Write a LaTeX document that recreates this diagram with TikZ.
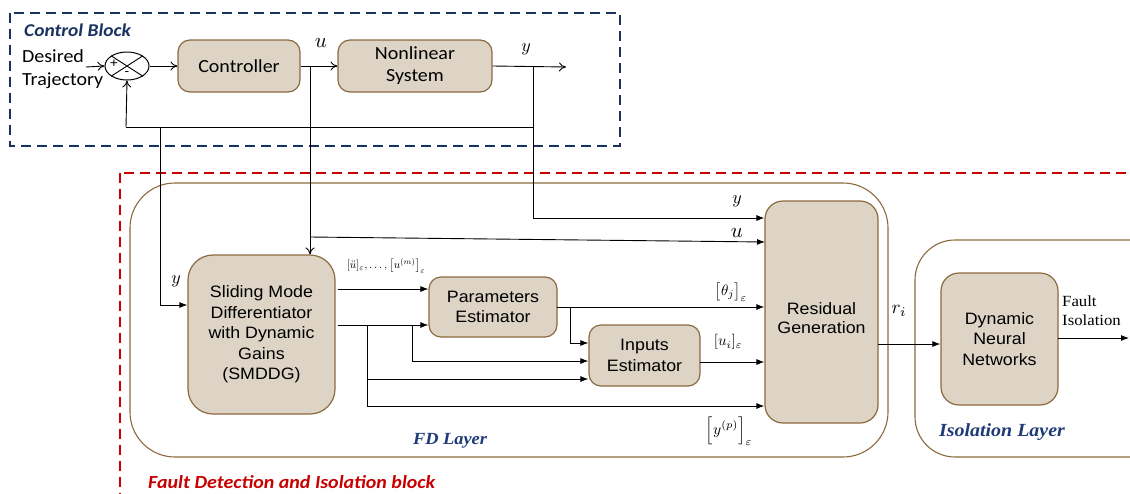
\documentclass[tikz,border=0pt]{standalone}
\usepackage{fontspec}
\usetikzlibrary{arrows.meta,shapes.geometric}
\newfontfamily\calfont[FakeStretch=1.08]{Carlito}
\newfontfamily\arsfont[FakeStretch=1.08]{Liberation Sans}
\newfontfamily\tmsfont[FakeStretch=1.08]{Liberation Serif}
\definecolor{boxfill}{HTML}{DDD4C6}
\definecolor{boxline}{HTML}{8C6A3F}
\definecolor{navyc}{HTML}{1A3260}
\definecolor{redc}{HTML}{C80000}
\definecolor{labnavy}{HTML}{1F3A78}
\tikzset{
  blk/.style={draw=boxline, line width=1.2pt, fill=boxfill, rounded corners=#1, align=center, inner sep=0pt},
  blk/.default=12pt,
  layer/.style={draw=boxline, line width=1.1pt, rounded corners=#1},
  oarr/.style={-{To[length=7pt,width=9pt]}, line width=0.9pt},
  farr/.style={-{Latex[length=8pt,width=6pt]}, line width=0.9pt},
  ln/.style={line width=0.9pt},
  sansbox/.style={font=\arsfont\fontsize{16.5}{20.5}\selectfont},
  calbox/.style={font=\calfont\fontsize{18.5}{22}\selectfont},
  mlab/.style={inner sep=0pt},
}
\begin{document}
\begin{tikzpicture}[x=1pt,y=-1pt]
\clip (0,0) rectangle (1130,493);
\fill[white] (0,0) rectangle (1130,493);

% ---------- Control block ----------
\draw[navyc, line width=2.4pt, dash pattern=on 10pt off 6pt] (10,13) rectangle (620,146);
\node[anchor=west, inner sep=0pt, text=navyc, font=\calfont\fontsize{18}{20}\bfseries\itshape\selectfont] (cbl) at (24,30) {Control Block};
\node[anchor=west, inner sep=0pt, calbox] (des) at (22,56) {Desired};
\node[anchor=west, inner sep=0pt, calbox] (traj) at (22,81) {Trajectory};

\node[draw, ellipse, line width=1pt, minimum width=44pt, minimum height=28pt, inner sep=0pt] (sum) at (127,66) {};
\draw[line width=0.9pt] (sum.north west) -- (sum.south east) (sum.north east) -- (sum.south west);
\node[inner sep=0pt, font=\arsfont\fontsize{13}{13}\selectfont] (plus) at (114,64) {+};
\node[inner sep=0pt, font=\arsfont\fontsize{13}{13}\selectfont] (minus) at (127,74) {-};

\node[blk, calbox, minimum width=122pt, minimum height=52pt] (ctrl) at (239,66) {Controller};
\node[blk, calbox, minimum width=154pt, minimum height=52pt] (nls) at (415,66) {Nonlinear\\System};

\coordinate (din) at (86,67);
\coordinate (ju) at (310,67);
\coordinate (jy) at (533,67);
\coordinate (yout) at (566,67);
\coordinate (fbr) at (533,127);
\coordinate (fbl) at (126,127);
\coordinate (fby) at (160,127);

\draw[oarr] (din) -- (sum.west);
\draw[oarr] (sum.east) -- (ctrl.west);
\draw[oarr] (ctrl.east) -- (nls.west);
\draw[oarr] (nls.east) -- (yout);
\draw[ln] (fbr) -- (fbl);
\draw[oarr] (fbl) -- (sum.south);
\node[mlab] (ulab) at (321,43) {\scalebox{2.1}{$u$}};
\node[mlab] (ylab) at (526,49) {\scalebox{1.8}{$y$}};

% ---------- FDI block ----------
\draw[redc, line width=2.4pt, dash pattern=on 10pt off 6pt] (120,173) rectangle (1150,510);
\node[anchor=west, inner sep=0pt, text=redc, font=\calfont\fontsize{18.5}{20}\bfseries\itshape\selectfont] (fdil) at (148,482) {Fault Detection and Isolation block};

\draw[layer=45pt] (130,183) rectangle (888,457);
\node[inner sep=0pt, text=labnavy, font=\tmsfont\fontsize{17}{18}\bfseries\itshape\selectfont] (fdl) at (450,441) {FD Layer};
\draw[layer=40pt] (915,240) rectangle (1180,457);
\node[inner sep=0pt, text=labnavy, font=\tmsfont\fontsize{18.5}{20}\bfseries\itshape\selectfont] (isl) at (1002,432) {Isolation Layer};

\node[blk=25pt, sansbox, minimum width=147pt, minimum height=159pt] (smd) at (261.5,334.5) {Sliding Mode\\Differentiator\\with Dynamic\\Gains\\(SMDDG)};
\node[blk, sansbox, minimum width=128pt, minimum height=60pt] (par) at (493,307) {Parameters\\Estimator};
\node[blk, sansbox, minimum width=111pt, minimum height=61pt] (inp) at (644.5,355.5) {Inputs\\Estimator};
\node[blk=18pt, sansbox, minimum width=113pt, minimum height=222pt] (res) at (821.5,312) {\raisebox{-12pt}[0pt][0pt]{\begin{tabular}{@{}c@{}}Residual\\[-1pt]Generation\end{tabular}}};
\node[blk=18pt, sansbox, minimum width=117pt, minimum height=132pt] (dnn) at (999.5,339) {Dynamic\\Neural\\Networks};

% feed lines from control block
\coordinate (ysm) at (160,305);
\coordinate (usm) at (310,237);
\draw[ln] (fby) -- (ysm);
\draw[farr] (ysm) -- (smd.west |- ysm);
\draw[oarr] (ju) -- (smd.north -| ju);
\coordinate (yres) at (533,218);
\draw[ln] (jy) -- (yres);
\draw[farr] (yres) -- (res.west |- yres);
\draw[farr] (usm) -- (765,242);
\node[mlab] (ylab2) at (737,201) {\scalebox{1.8}{$y$}};
\node[mlab] (ulab2) at (737,233) {\scalebox{2.1}{$u$}};
\node[mlab] (ylab3) at (176,281) {\scalebox{1.8}{$y$}};

% SMDDG outputs
\coordinate (s1) at (338,289);
\coordinate (s2) at (338,325);
\draw[farr] (s1) -- (par.west |- s1);
\draw[farr] (s2) -- (par.west |- s2);
\node[mlab] (dlab) at (386,266) {\scalebox{1.12}{$[\ddot u]_\varepsilon,\ldots,\big[u^{(m)}\big]_\varepsilon$}};

\coordinate (ba) at (412,325);
\coordinate (ba2) at (412,361);
\draw[ln] (ba) -- (ba2);
\draw[farr] (ba2) -- (inp.west |- ba2);
\coordinate (bb) at (367,325);
\coordinate (bb2) at (367,379);
\coordinate (bb3) at (367,406);
\draw[ln] (bb) -- (bb3);
\draw[farr] (bb2) -- (inp.west |- bb2);
\draw[farr] (bb3) -- (res.west |- bb3);

% parameters estimator outputs
\coordinate (p1) at (557,307);
\coordinate (pb) at (570,307);
\coordinate (pb2) at (570,343);
\draw[farr] (p1) -- (res.west |- p1);
\draw[ln] (pb) -- (pb2);
\draw[farr] (pb2) -- (inp.west |- pb2);
\coordinate (i1) at (700,362);
\draw[farr] (i1) -- (res.west |- i1);

\node[mlab] (thlab) at (731,292) {\scalebox{1.5}{$\big[\theta_j\big]_\varepsilon$}};
\node[mlab] (uilab) at (728,342) {\scalebox{1.5}{$[u_i]_\varepsilon$}};
\node[mlab] (yplab) at (729,431) {\scalebox{1.55}{$\Big[y^{(p)}\Big]_\varepsilon$}};

% residual -> DNN -> out
\coordinate (r1) at (878,344);
\draw[farr] (r1) -- (dnn.west |- r1);
\node[mlab] (rilab) at (899,311) {\scalebox{1.9}{$r_i$}};
\coordinate (d1) at (1058,338);
\coordinate (fout) at (1129,338);
\draw[farr] (d1) -- (fout);
\node[anchor=west, align=left, inner sep=0pt, font=\tmsfont\fontsize{15.5}{19}\selectfont] (fil) at (1062,311) {Fault\\Isolation};
\end{tikzpicture}
\end{document}
